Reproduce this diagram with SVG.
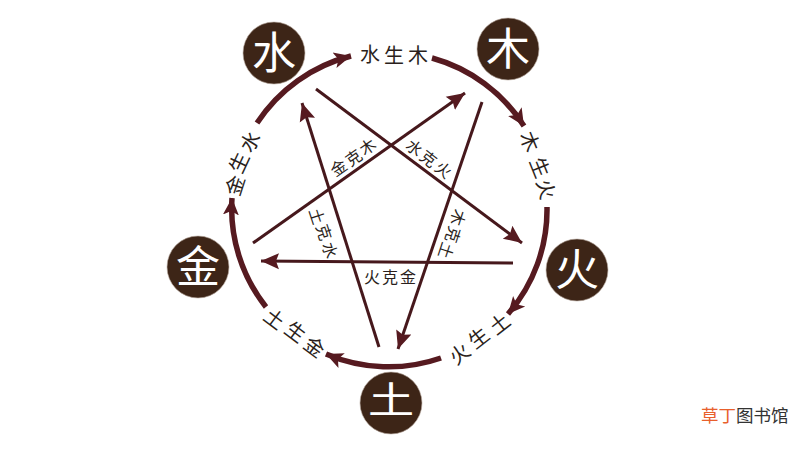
<svg xmlns="http://www.w3.org/2000/svg" width="800" height="450" viewBox="0 0 800 450">
<style>
text{font-family:"Noto Sans CJK SC","Noto Sans",sans-serif;text-anchor:middle;dominant-baseline:central}
.n{fill:#3d2517;stroke:#b8aaa0;stroke-width:.6}
.g{font-size:44px;fill:#fff}
.o{font-size:20px;fill:#2b1f1c}
.i{font-size:16px;fill:#2b1f1c}
.a{fill:none;stroke:#561a20;stroke-width:5.5;marker-end:url(#h)}
.l{fill:none;stroke:#46181c;stroke-width:3;marker-end:url(#k)}
</style>
<defs>
<marker id="h" markerUnits="userSpaceOnUse" markerWidth="22" markerHeight="20" refX="17" refY="9" orient="auto"><path d="M0 1L17 9L0 17L4 9Z" fill="#561a20"/></marker>
<marker id="k" markerUnits="userSpaceOnUse" markerWidth="22" markerHeight="20" refX="18" refY="9" orient="auto"><path d="M0 1L18 9L0 17L3 9Z" fill="#561a20"/></marker>
</defs>
<rect width="800" height="450" fill="#fff"/>
<g id="connectors">
<path class="a" d="M257 123A159 159 0 0 1 351 56"/>
<path class="a" d="M432 58A159 159 0 0 1 524 126"/>
<path class="a" d="M547 207A159 159 0 0 1 508 314"/>
<path class="a" d="M441 358A159 159 0 0 1 326 354"/>
<path class="a" d="M266 307A159 159 0 0 1 232 198"/>
<path class="l" d="M253 243L465 93"/>
<path class="l" d="M316 89L522 243"/>
<path class="l" d="M482 102L398 349"/>
<path class="l" d="M513 263L261 261"/>
<path class="l" d="M379 347L302 103"/>
</g>
<g id="node-shui"><circle class="n" cx="274" cy="53" r="31"/><text class="g" x="274" y="50">水</text></g>
<g id="node-mu"><circle class="n" cx="508" cy="49" r="31"/><text class="g" x="508" y="46">木</text></g>
<g id="node-huo"><circle class="n" cx="577" cy="270" r="31"/><text class="g" x="577" y="267">火</text></g>
<g id="node-tu"><circle class="n" cx="391" cy="403" r="31"/><text class="g" transform="translate(391 398) scale(1.05 .85)">土</text></g>
<g id="node-jin"><circle class="n" cx="198" cy="267" r="31"/><text class="g" x="198" y="264">金</text></g>
<g id="outer-labels">
<text class="o" x="370" y="53">水</text><text class="o" x="394" y="54">生</text><text class="o" x="418" y="54">木</text>
<text class="o" transform="translate(531 141) rotate(68)">木</text><text class="o" transform="translate(541 167) rotate(68)">生</text><text class="o" transform="translate(547 189) rotate(75)">火</text>
<text class="o" transform="translate(459 353) rotate(-38)">火</text><text class="o" transform="translate(478 337) rotate(-38)">生</text><text class="o" transform="translate(499 323) rotate(-38)">土</text>
<text class="o" transform="translate(275 318) rotate(37)">土</text><text class="o" transform="translate(296 331) rotate(37)">生</text><text class="o" transform="translate(315 346) rotate(37)">金</text>
<text class="o" transform="translate(234 185) rotate(-72)">金</text><text class="o" transform="translate(238 162) rotate(-65)">生</text><text class="o" transform="translate(249 141) rotate(-58)">水</text>
</g>
<g id="inner-labels">
<text class="i" transform="translate(338 167) rotate(-35)">金</text><text class="i" transform="translate(353 157) rotate(-35)">克</text><text class="i" transform="translate(367 146) rotate(-35)">木</text>
<text class="i" transform="translate(415 147) rotate(38)">水</text><text class="i" transform="translate(429 158) rotate(38)">克</text><text class="i" transform="translate(444 169) rotate(38)">火</text>
<text class="i" transform="translate(459 218) rotate(108)">木</text><text class="i" transform="translate(454 235) rotate(108)">克</text><text class="i" transform="translate(447 251) rotate(108)">土</text>
<text class="i" transform="translate(318 216) rotate(72)">土</text><text class="i" transform="translate(325 232) rotate(72)">克</text><text class="i" transform="translate(331 250) rotate(72)">水</text>
<text class="i" x="372" y="276">火</text><text class="i" x="390" y="276">克</text><text class="i" x="408" y="276">金</text>
</g>
<text x="701" y="414" font-size="17.5" style="text-anchor:start"><tspan fill="#e8602c">草丁</tspan><tspan fill="#333">图书馆</tspan></text>
</svg>
